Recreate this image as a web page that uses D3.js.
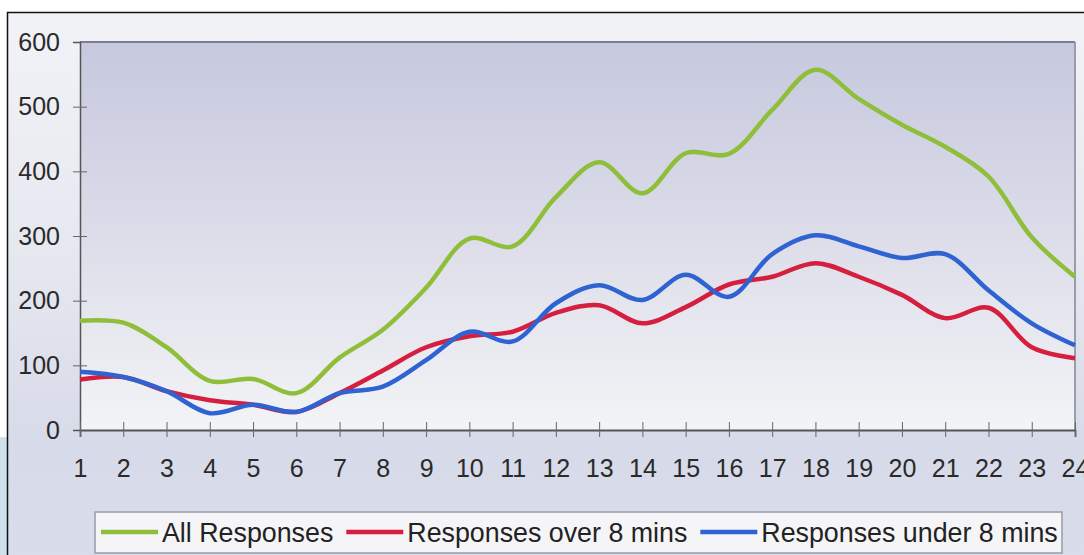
<!DOCTYPE html>
<html><head><meta charset="utf-8">
<script src="https://cdn.jsdelivr.net/npm/d3@7"></script>
<style>html,body{margin:0;padding:0;background:#fff;overflow:hidden}svg{display:block}</style>
</head><body>
<svg id="c" width="1084" height="555"></svg>
<script>
const hours = d3.range(1, 25);
const yTicks = [0, 100, 200, 300, 400, 500, 600];
const allResponses = [169, 166, 128, 76, 79, 57, 112, 155, 220, 296, 284, 360, 414, 366, 428, 427, 495, 557, 512, 472, 438, 392, 298, 237];
const over8 = [78, 82, 60, 46, 39, 28, 57, 92, 128, 145, 152, 181, 193, 165, 190, 225, 237, 258, 237, 209, 173, 189, 128, 111];
const under8 = [90, 82, 60, 26, 39, 28, 57, 67, 108, 152, 137, 196, 224, 201, 240, 206, 272, 301, 284, 266, 272, 216, 165, 131];
const seriesNames = ["All Responses", "Responses over 8 mins", "Responses under 8 mins"];
const seriesColors = ["#8fbe3a", "#d61f3f", "#2f63d2"];
const seriesData = [allResponses, over8, under8];

const svg = d3.select("#c");
const defs = svg.append("defs");
const g1 = defs.append("linearGradient").attr("id","outer").attr("x1",0).attr("y1",0).attr("x2",0).attr("y2",1);
g1.append("stop").attr("offset","0%").attr("stop-color","#f2f3f7");
g1.append("stop").attr("offset","45%").attr("stop-color","#e6e8f0");
g1.append("stop").attr("offset","80%").attr("stop-color","#d7dae8");
g1.append("stop").attr("offset","100%").attr("stop-color","#d9dce9");
const g2 = defs.append("linearGradient").attr("id","plot").attr("x1",0).attr("y1",0).attr("x2",0).attr("y2",1);
g2.append("stop").attr("offset","0%").attr("stop-color","#c6c8de");
g2.append("stop").attr("offset","50%").attr("stop-color","#dcdde9");
g2.append("stop").attr("offset","100%").attr("stop-color","#f3f4f6");

// outer background
svg.append("rect").attr("x",7).attr("y",12).attr("width",1077).attr("height",543).attr("fill","url(#outer)");
svg.append("rect").attr("x",0).attr("y",437).attr("width",7).attr("height",118).attr("fill","#cfe0ea");
svg.append("line").attr("x1",7).attr("x2",1084).attr("y1",12.5).attr("y2",12.5).attr("stroke","#111").attr("stroke-width",1.5);
svg.append("line").attr("x1",7.5).attr("x2",7.5).attr("y1",12).attr("y2",555).attr("stroke","#111").attr("stroke-width",1.5);

const pL = 80, pR = 1075, pT = 42, pB = 430;
const x = d3.scaleLinear().domain([1, 24]).range([pL, pR]);
const y = d3.scaleLinear().domain([0, 600]).range([pB, pT]);

svg.append("rect").attr("x",pL).attr("y",pT).attr("width",pR-pL).attr("height",pB-pT).attr("fill","url(#plot)");
svg.append("line").attr("x1",pL).attr("x2",pR).attr("y1",pT).attr("y2",pT).attr("stroke","#7d7f90").attr("stroke-width",2);
svg.append("line").attr("x1",pR).attr("x2",pR).attr("y1",pT).attr("y2",pB).attr("stroke","#9a9cab").attr("stroke-width",2);

const font = "'Liberation Sans', Arial, sans-serif";
// y axis
const ya = svg.append("g").attr("transform",`translate(${pL},0)`)
  .call(d3.axisLeft(y).tickValues(yTicks).tickSize(7).tickPadding(13));
ya.select(".domain").attr("stroke","#555").attr("stroke-width",1.5);
ya.selectAll(".tick line").attr("stroke","#666").attr("x2",-7).attr("x1",7);
ya.selectAll(".tick line").filter(d=>d===600||d===0).remove();
ya.selectAll("text").attr("font-family",font).attr("font-size",25).attr("fill","#2a2a2a");

// x axis
const xa = svg.append("g").attr("transform",`translate(0,${pB})`)
  .call(d3.axisBottom(x).tickValues(hours).tickFormat(d3.format("d")).tickSize(7).tickPadding(22));
xa.select(".domain").attr("stroke","#555").attr("stroke-width",1.8);
xa.selectAll(".tick line").attr("stroke","#666").attr("y1",-8).attr("y2",7);
xa.selectAll("text").attr("font-family",font).attr("font-size",25).attr("fill","#2a2a2a");

// lines
const line = d3.line().x((d,i)=>x(hours[i])).y(d=>y(d)).curve(d3.curveCatmullRom.alpha(0.5));
seriesData.forEach((s,k)=>{
  svg.append("path").datum(s).attr("d",line).attr("fill","none")
    .attr("stroke",seriesColors[k]).attr("stroke-width",4.5).attr("stroke-linejoin","round");
});

// legend
const lg = svg.append("g");
lg.append("rect").attr("x",95).attr("y",512).attr("width",967).attr("height",41)
  .attr("fill","#f5f5f8").attr("stroke","#9a9aa8").attr("stroke-width",1.5);
let cx = 101;
seriesNames.forEach((n,k)=>{
  lg.append("line").attr("x1",cx).attr("x2",cx+57).attr("y1",532).attr("y2",532)
    .attr("stroke",seriesColors[k]).attr("stroke-width",4.5);
  cx += 61;
  const t = lg.append("text").attr("x",cx).attr("y",542).text(n)
    .attr("font-family",font).attr("font-size",26.8).attr("fill","#222");
  cx += t.node().getComputedTextLength() + 13;
});
</script>
</body></html>
